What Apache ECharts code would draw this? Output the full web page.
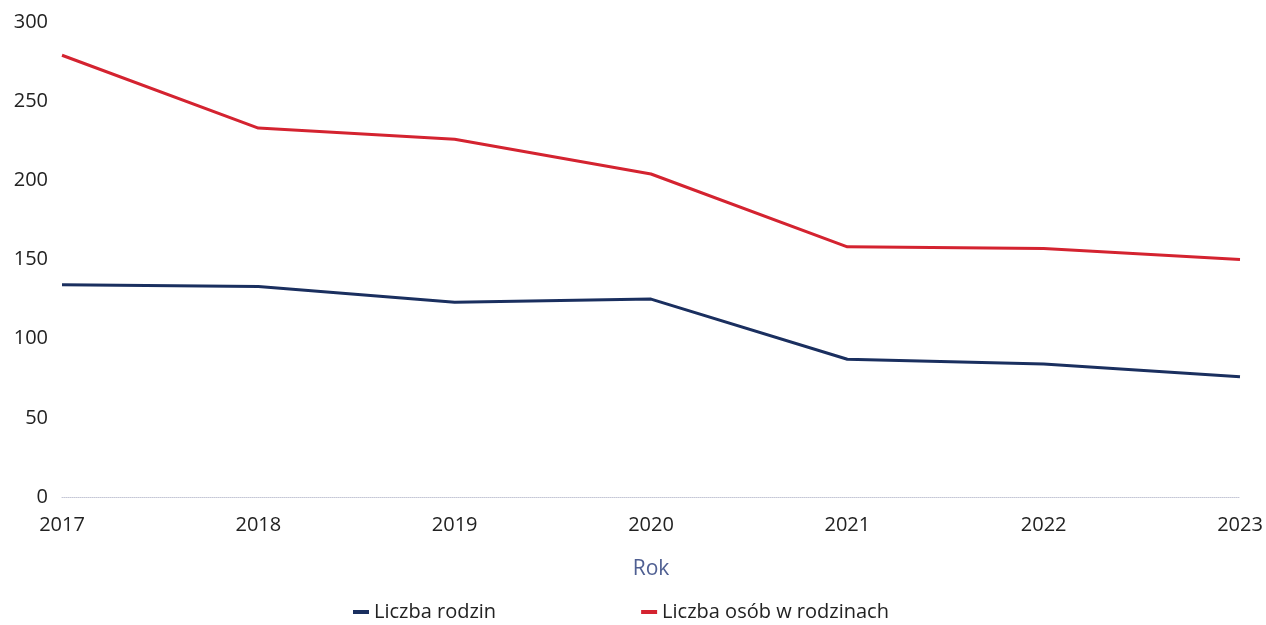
<!DOCTYPE html>
<html>
<head>
<meta charset="utf-8">
<script src="https://cdn.jsdelivr.net/npm/echarts@6/dist/echarts.min.js"></script>
<style>
  html, body { margin: 0; padding: 0; background: #fff; }
  #chart { width: 1266px; height: 625px; }
</style>
</head>
<body>
<div id="chart"></div>
<script>
// lata
let years = ["2017", "2018", "2019", "2020", "2021", "2022", "2023"];
// dane
let rodziny = [134, 133, 123, 125, 87, 84, 76];
let osoby = [279, 233, 226, 204, 158, 157, 150];
let yTicks = [0, 50, 100, 150, 200, 250, 300];

let mychart = echarts.init(document.getElementById("chart"));
let font = "'Open Sans', 'Noto Sans', sans-serif";
let options = {
    animation: false,
    grid: {
        left: 62,
        right: 26,
        top: 22,
        bottom: 128
    },
    legend: {
        data: ["Liczba rodzin", "Liczba osób w rodzinach"],
        left: 348,
        top: 597,
        itemGap: 145,
        itemWidth: 16,
        itemHeight: 4,
        icon: "rect",
        textStyle: {
            color: "#222",
            fontSize: 20,
            fontFamily: font
        }
    },
    xAxis: {
        type: "category",
        data: years,
        boundaryGap: false,
        name: "Rok",
        nameLocation: "middle",
        nameGap: 62,
        nameTextStyle: {
            color: "#4f5f92",
            fontSize: 21,
            fontFamily: font
        },
        axisLine: {
            show: true,
            lineStyle: { color: "#c4c6d6", type: "dotted", width: 1 }
        },
        axisTick: { show: false },
        axisLabel: {
            color: "#222",
            fontSize: 20,
            fontFamily: font,
            margin: 18
        }
    },
    yAxis: {
        type: "value",
        min: 0,
        max: 300,
        interval: 50,
        axisLine: { show: false },
        axisTick: { show: false },
        splitLine: { show: false },
        axisLabel: {
            color: "#222",
            fontSize: 20,
            fontFamily: font,
            margin: 14,
            formatter: function (v) {
                return yTicks.indexOf(v) >= 0 ? String(v) : "";
            }
        }
    },
    series: [{
        name: "Liczba rodzin",
        type: "line",
        data: rodziny,
        symbol: "none",
        color: "#1a2f5f",
        lineStyle: { width: 3, color: "#1a2f5f" }
    }, {
        name: "Liczba osób w rodzinach",
        type: "line",
        data: osoby,
        symbol: "none",
        color: "#d42330",
        lineStyle: { width: 3, color: "#d42330" }
    }]
};
mychart.setOption(options);
</script>
</body>
</html>
